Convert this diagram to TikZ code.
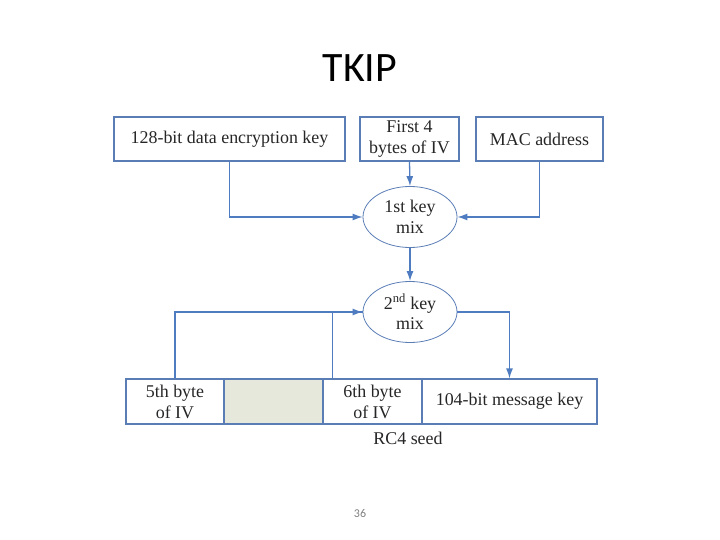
\documentclass[tikz,border=0pt]{standalone}
\usepackage{fontspec}
\setmainfont{Liberation Serif}
\newfontfamily\titlefont{Carlito}
\usepackage{tikz}
\usetikzlibrary{shapes, arrows.meta}
\definecolor{boxline}{HTML}{5A7DB5}
\definecolor{wireblue}{HTML}{4F7CC0}
\definecolor{seedfill}{HTML}{E5E8DA}
\definecolor{inkgray}{HTML}{262626}

\begin{document}
\begin{tikzpicture}[x=1bp, y=-1bp]
\useasboundingbox (0,0) rectangle (720,540);
\tikzset{
  keybox/.style={draw=boxline, line width=1.2pt, rectangle, minimum height=44bp, inner sep=0pt, align=center, text=inkgray, font=\fontsize{18}{21}\selectfont},
  mixer/.style={draw=boxline, line width=0.8pt, ellipse, minimum width=94bp, minimum height=61bp, inner sep=0pt, align=center, text=inkgray, font=\fontsize{18}{21}\selectfont},
  wire/.style={wireblue, line width=1.3pt},
  feed/.style={wire, -{Latex[length=10bp, width=7bp]}}
}
\node[font=\titlefont\fontsize{42}{48}\selectfont] (title) at (360,68) {TKIP};
\node[keybox, minimum width=231bp] (datakey) at (229.5,139) {128-bit data encryption key};
\node[keybox, minimum width=99bp] (ivfirst) at (409.5,139) {First 4\\bytes of IV};
\node[keybox, minimum width=127bp] (macaddr) at (539.5,139) {MAC address};
\node[mixer] (mixone) at (410,217) {1st key\\mix};
\node[mixer] (mixtwo) at (410,312) {2\textsuperscript{nd} key\\mix};
\node[keybox, minimum width=98bp, minimum height=45bp] (ivfifth) at (175,401.5) {5th byte\\of IV};
\node[keybox, minimum width=99bp, minimum height=45bp, fill=seedfill] (pad) at (273.5,401.5) {};
\node[keybox, minimum width=99bp, minimum height=45bp] (ivsixth) at (372.5,401.5) {6th byte\\of IV};
\node[keybox, minimum width=175bp, minimum height=45bp] (msgkey) at (509.5,401.5) {104-bit message key};
\node[text=inkgray, font=\fontsize{18}{21}\selectfont] (seed) at (408,438) {RC4 seed};
\node[font=\titlefont\fontsize{12}{14}\selectfont, text=gray] (pageno) at (360,514) {36};
\coordinate (sixthtap) at ([xshift=10bp]ivsixth.north west);
\draw[feed] (datakey.south) |- (mixone.west);
\draw[feed] (macaddr.south) |- (mixone.east);
\draw[feed] (ivfirst.south) -- (mixone.north);
\draw[feed] (mixone.south) -- (mixtwo.north);
\draw[feed] (ivfifth.north) |- (mixtwo.west);
\draw[wire] (sixthtap) |- (mixtwo.west);
\draw[feed] (mixtwo.east) -| (msgkey.north);
\end{tikzpicture}
\end{document}
